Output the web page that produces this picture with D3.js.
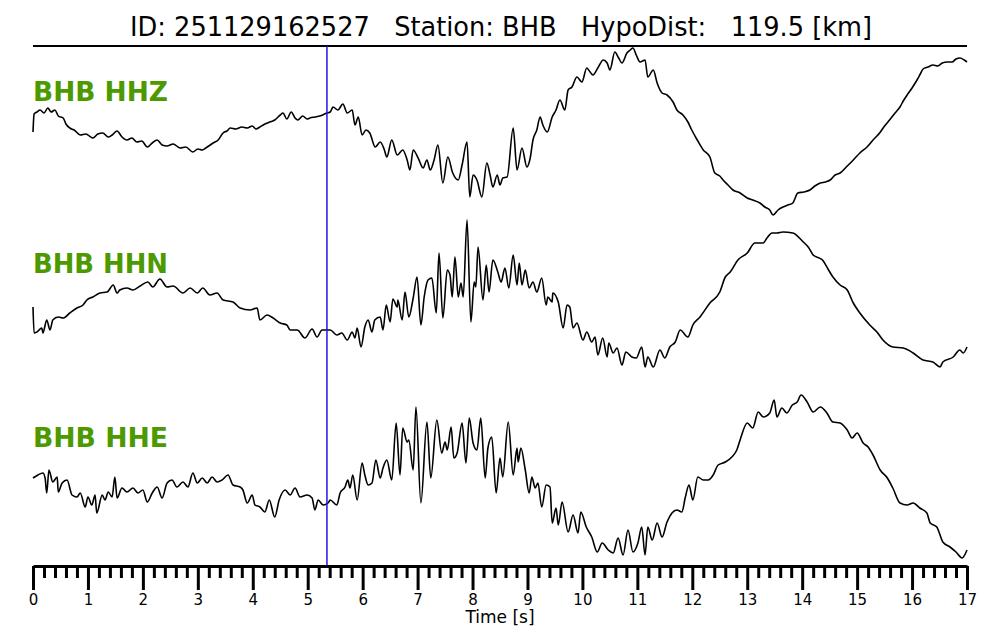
<html>
<head>
    <style>
        body { margin: 0; background: #fff; }
        .trace {
            fill: none;
            stroke: #000;
            stroke-width: 1.6px;
            stroke-linejoin: round;
        }
        text { font-family: "DejaVu Sans", sans-serif; }
    </style>
</head>
<body>
    <svg id="container" width="1000" height="640"></svg>
<script src="https://d3js.org/d3.v7.min.js"></script>
<script>
    // header info
    const eventId = "251129162527"
    const station = "BHB"
    const hypoDist = 119.5
    const pickTime = 5.35   // P pick [s]

    const channels = ["BHB HHZ", "BHB HHN", "BHB HHE"]
    const majorTicks = d3.range(0, 18)
    const minorStep = 0.2

    // HHZ trace (time [s], normalized amplitude)
    const hhzT = [0,0.02,0.07,0.13,0.20,0.27,0.33,0.40,0.46,0.55,
        0.60,0.67,0.75,0.86,0.96,1.09,1.18,1.27,1.37,1.44,
        1.53,1.62,1.71,1.80,1.89,1.98,2.08,2.17,2.26,2.35,
        2.44,2.55,2.68,2.78,2.91,3.00,3.08,3.17,3.28,3.37,
        3.46,3.53,3.59,3.69,3.80,3.90,3.99,4.06,4.13,4.22,
        4.31,4.40,4.50,4.55,4.62,4.70,4.77,4.82,4.91,4.99,
        5.04,5.13,5.22,5.35,5.41,5.46,5.55,5.64,5.72,5.81,
        5.86,5.92,5.99,6.06,6.13,6.23,6.32,6.39,6.44,6.53,
        6.63,6.73,6.81,6.86,6.92,7.01,7.10,7.17,7.23,7.30,
        7.37,7.46,7.55,7.64,7.74,7.81,7.90,7.95,8.01,8.08,
        8.17,8.26,8.32,8.37,8.45,8.50,8.55,8.63,8.74,8.81,
        8.90,8.99,9.05,9.10,9.17,9.23,9.28,9.36,9.45,9.52,
        9.59,9.68,9.74,9.81,9.90,9.99,10.08,10.14,10.19,10.28,
        10.38,10.45,10.50,10.59,10.66,10.72,10.81,10.87,10.92,10.98,
        11.05,11.14,11.19,11.29,11.36,11.45,11.54,11.65,11.72,11.83,
        11.92,11.99,12.09,12.20,12.32,12.41,12.50,12.56,12.65,12.74,
        12.87,13.00,13.10,13.23,13.32,13.41,13.47,13.56,13.65,13.74,
        13.83,13.92,14.03,14.14,14.23,14.33,14.42,14.51,14.60,14.69,
        14.82,14.93,15.05,15.18,15.29,15.41,15.50,15.59,15.69,15.78,
        15.85,15.91,16.00,16.09,16.15,16.20,16.29,16.38,16.47,16.55,
        16.64,16.73,16.80,16.87,16.95,17.00]
    const hhzV = [-2,16,18,20,17,22,18,20,14,12,
        6,2,0,-5,-4,-8,-4,-3,-7,-5,
        -1,-7,-10,-8,-12,-11,-17,-13,-10,-15,
        -16,-14,-18,-17,-22,-19,-20,-17,-13,-10,
        -3,-1,2,1,3,2,4,1,3,6,
        8,10,15,17,11,18,12,10,14,11,
        12,13,14,17,18,23,20,26,17,20,
        5,13,-5,0,-3,-17,-12,-19,-27,-10,
        -25,-20,-30,-40,-20,-28,-38,-30,-40,-30,
        -15,-53,-27,-43,-50,-35,-12,-67,-45,-50,
        -67,-33,-45,-57,-45,-55,-48,-47,2,-40,
        -18,-37,-28,-10,0,13,5,-2,13,20,
        30,20,40,43,53,48,62,58,55,62,
        70,67,60,78,72,67,77,80,82,75,
        68,70,53,60,47,37,35,28,20,15,
        8,0,-10,-20,-27,-43,-46,-50,-55,-60,
        -63,-68,-70,-73,-77,-80,-85,-80,-77,-75,
        -73,-63,-62,-60,-56,-53,-52,-50,-45,-43,
        -36,-30,-23,-17,-10,-3,4,10,17,23,
        30,35,42,50,56,61,63,65,64,67,
        68,68,71,72,70,68]

    // HHN trace
    const hhnT = [0,0.02,0.07,0.16,0.18,0.25,0.31,0.36,0.46,0.55,
        0.67,0.80,0.91,0.98,1.09,1.22,1.35,1.46,1.53,1.58,
        1.71,1.82,1.95,2.09,2.18,2.31,2.44,2.55,2.73,2.86,
        2.99,3.09,3.22,3.35,3.46,3.64,3.77,3.95,4.08,4.13,
        4.26,4.37,4.50,4.62,4.68,4.81,4.95,5.08,5.17,5.26,
        5.41,5.53,5.62,5.72,5.81,5.86,5.90,5.97,6.04,6.10,
        6.17,6.22,6.32,6.37,6.43,6.50,6.55,6.63,6.64,6.72,
        6.77,6.84,6.92,6.99,7.06,7.12,7.19,7.26,7.34,7.39,
        7.46,7.54,7.59,7.63,7.68,7.74,7.79,7.83,7.90,7.97,
        8.03,8.06,8.10,8.19,8.25,8.30,8.37,8.46,8.52,8.59,
        8.66,8.74,8.81,8.85,8.90,8.96,9.03,9.10,9.17,9.26,
        9.34,9.37,9.45,9.46,9.56,9.65,9.72,9.77,9.83,9.90,
        10.01,10.08,10.17,10.23,10.28,10.37,10.45,10.48,10.56,10.63,
        10.72,10.79,10.90,10.98,11.08,11.14,11.19,11.29,11.41,11.50,
        11.59,11.69,11.78,11.92,12.01,12.14,12.32,12.50,12.60,12.69,
        12.83,13.00,13.14,13.29,13.36,13.45,13.54,13.65,13.83,14.02,
        14.11,14.20,14.37,14.48,14.56,14.69,14.82,14.93,15.05,15.23,
        15.36,15.47,15.65,15.84,16.02,16.20,16.38,16.51,16.56,16.75,
        16.87,16.93,17.00]
    const hhnV = [-7,-33,-32,-28,-33,-20,-30,-20,-17,-18,
        -13,-8,-5,0,3,7,8,15,7,10,
        12,10,14,18,13,21,13,14,7,12,
        7,12,5,7,0,-2,-8,-10,-8,-20,
        -15,-18,-23,-25,-30,-30,-38,-29,-37,-30,
        -30,-35,-33,-40,-32,-38,-28,-47,-27,-20,
        -32,-20,-17,-30,-5,-22,1,-7,0,-20,
        8,-17,2,23,-25,3,20,22,-13,47,
        -18,30,25,3,43,3,17,3,80,-22,
        18,13,53,0,35,8,40,28,18,32,
        12,45,15,37,15,30,12,18,8,22,
        -5,3,-2,7,-2,-28,-5,-7,-28,-23,
        -40,-32,-42,-37,-55,-38,-57,-43,-53,-48,
        -65,-52,-57,-58,-47,-67,-57,-67,-50,-58,
        -47,-42,-30,-37,-25,-17,-3,8,23,28,
        40,47,57,57,62,67,67,68,67,58,
        53,45,40,30,23,15,10,-3,-13,-25,
        -32,-40,-47,-48,-53,-60,-62,-67,-62,-57,
        -50,-53,-47]

    // HHE trace
    const hheT = [0,0.09,0.18,0.22,0.25,0.29,0.36,0.44,0.46,0.53,
        0.62,0.71,0.80,0.86,0.95,1.00,1.07,1.13,1.16,1.26,
        1.31,1.37,1.44,1.49,1.53,1.62,1.71,1.82,1.91,2.00,
        2.08,2.17,2.26,2.35,2.44,2.53,2.62,2.73,2.82,2.91,
        2.99,3.08,3.17,3.26,3.35,3.44,3.55,3.64,3.77,3.82,
        3.90,3.99,4.04,4.13,4.22,4.30,4.40,4.48,4.59,4.68,
        4.77,4.86,4.99,5.08,5.13,5.19,5.28,5.37,5.41,5.53,
        5.59,5.68,5.73,5.77,5.82,5.90,5.99,6.04,6.10,6.17,
        6.24,6.32,6.37,6.44,6.53,6.61,6.68,6.73,6.81,6.84,
        6.92,6.97,7.06,7.17,7.24,7.35,7.44,7.50,7.54,7.61,
        7.66,7.72,7.81,7.88,7.94,8.01,8.08,8.15,8.23,8.28,
        8.35,8.43,8.50,8.55,8.65,8.74,8.81,8.83,8.88,8.96,
        9.03,9.08,9.14,9.19,9.26,9.34,9.41,9.45,9.52,9.56,
        9.63,9.74,9.83,9.92,9.97,10.07,10.17,10.27,10.36,10.47,
        10.56,10.65,10.74,10.83,10.92,11.01,11.08,11.14,11.19,11.27,
        11.36,11.45,11.54,11.63,11.72,11.81,11.87,11.94,12.01,12.10,
        12.20,12.29,12.38,12.47,12.60,12.72,12.81,12.87,13.00,13.10,
        13.20,13.29,13.41,13.49,13.54,13.63,13.72,13.82,13.91,13.98,
        14.09,14.20,14.33,14.45,14.56,14.69,14.82,14.91,15.00,15.11,
        15.20,15.29,15.42,15.55,15.65,15.78,15.91,16.02,16.14,16.27,
        16.33,16.45,16.56,16.69,16.80,16.91,17.00]
    const hheV = [-2,1,3,-2,-17,6,-6,-1,-16,-7,
        -4,-19,-21,-17,-31,-21,-29,-19,-37,-19,
        -24,-16,-21,-1,-22,-12,-16,-12,-17,-14,
        -26,-17,-11,-22,-7,-4,-11,-6,-11,3,
        -7,-2,-7,-1,-6,-4,1,-9,-11,-14,
        -27,-19,-29,-31,-36,-24,-41,-24,-14,-19,
        -12,-21,-19,-22,-34,-24,-29,-27,-24,-29,
        -17,-11,-4,-12,1,-24,13,1,-9,-7,
        16,-2,8,16,-4,53,1,48,34,36,
        6,69,-27,54,-2,56,23,34,26,49,
        18,23,53,13,58,33,26,58,-2,28,
        39,-17,18,-1,54,1,28,14,28,6,
        -17,-1,-12,-7,-31,-9,-11,-47,-32,-49,
        -26,-56,-39,-57,-36,-51,-61,-76,-67,-74,
        -77,-62,-79,-54,-76,-67,-51,-79,-51,-64,
        -47,-61,-46,-37,-34,-36,-22,-9,-24,-1,
        -4,-4,1,11,14,19,26,36,53,48,
        64,59,63,76,59,68,63,71,74,81,
        74,64,69,63,54,53,46,38,43,33,
        29,21,6,-2,-12,-27,-29,-27,-32,-37,
        -47,-51,-66,-71,-76,-82,-74]

    let svg = d3.select("#container")

    let xScale = d3.scaleLinear()
        .domain([0, 17])
        .range([33, 967])

    let axisY = 566
    let topY = 46
    let traceCenters = [130, 300, 476]
    let labelY = [101, 273, 447]

    // title (squeezed a little to match the original width)
    svg.append("text")
        .attr("x", 501)
        .attr("y", 36)
        .attr("text-anchor", "middle")
        .attr("xml:space", "preserve")
        .attr("textLength", 742)
        .attr("lengthAdjust", "spacingAndGlyphs")
        .style("white-space", "pre")
        .style("font-size", "27px")
        .attr("fill", "#000")
        .text("ID: " + eventId + "   Station: " + station + "   HypoDist:   " + hypoDist + " [km]")

    // top frame line
    svg.append("line")
        .attr("x1", xScale(0)).attr("x2", xScale(17))
        .attr("y1", topY).attr("y2", topY)
        .attr("stroke", "#000")
        .attr("stroke-width", 2)

    // traces
    let traces = [[hhzT, hhzV], [hhnT, hhnV], [hheT, hheV]]
    traces.forEach((tr, i) => {
        let c = traceCenters[i]
        let yScale = d3.scaleLinear()
            .domain([-100, 100])
            .range([c + 100, c - 100])
        let n = Math.min(tr[0].length, tr[1].length)
        let data = d3.range(n).map(k => ({ t: tr[0][k], v: tr[1][k] }))
        let line = d3.line()
            .curve(d3.curveMonotoneX)
            .x(d => xScale(d.t))
            .y(d => yScale(d.v))
        svg.append("path")
            .datum(data)
            .attr("class", "trace")
            .attr("d", line)

        svg.append("text")
            .attr("x", 33)
            .attr("y", labelY[i])
            .style("font-size", "27px")
            .style("font-weight", "bold")
            .attr("textLength", 135)
            .attr("lengthAdjust", "spacingAndGlyphs")
            .attr("fill", "#4c9a00")
            .text(channels[i])
    })

    // pick marker
    svg.append("line")
        .attr("x1", xScale(pickTime)).attr("x2", xScale(pickTime))
        .attr("y1", topY).attr("y2", axisY)
        .attr("stroke", "#1a1ae6")
        .attr("stroke-width", 1.5)

    // minor ticks
    let minorTicks = d3.range(0, 17 + 1e-6, minorStep).filter(d => Math.abs(d - Math.round(d)) > 1e-6)
    let minorAxis = svg.append("g")
        .attr("transform", "translate(0," + axisY + ")")
        .call(d3.axisBottom(xScale).tickValues(minorTicks).tickSize(12).tickSizeOuter(0).tickFormat(""))
    minorAxis.select(".domain").remove()
    minorAxis.selectAll("line").attr("stroke-width", 3)

    // major ticks
    let majorAxis = svg.append("g")
        .attr("transform", "translate(0," + axisY + ")")
        .call(d3.axisBottom(xScale).tickValues(majorTicks).tickSize(24).tickSizeOuter(0).tickPadding(4).tickFormat(d3.format("d")))
    majorAxis.select(".domain").attr("stroke-width", 3)
    majorAxis.selectAll("line").attr("stroke-width", 3)
    majorAxis.selectAll("text")
        .style("font-size", "15px")
        .style("font-family", "DejaVu Sans, sans-serif")
        .attr("fill", "#000")

    svg.append("text")
        .attr("x", 500)
        .attr("y", 623)
        .attr("text-anchor", "middle")
        .style("font-size", "17px")
        .text("Time [s]")
</script>
</body>
</html>
